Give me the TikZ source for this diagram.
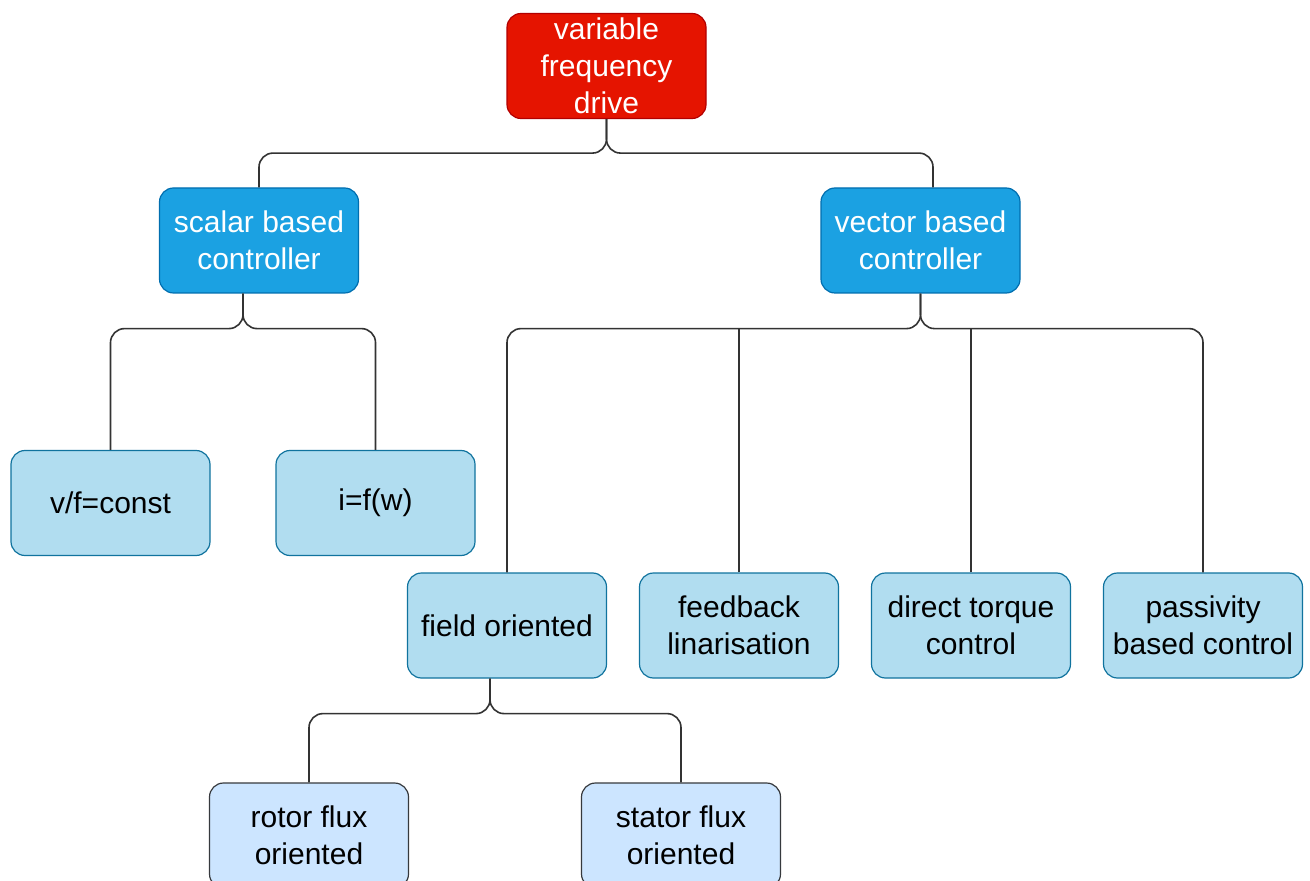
\documentclass[tikz,border=0pt]{standalone}
\usepackage{fontspec}
\setmainfont{Liberation Sans}
\usetikzlibrary{positioning}
\definecolor{vfdred}{HTML}{E51400}
\definecolor{vfdredline}{HTML}{B20000}
\definecolor{ctrlblue}{HTML}{1BA1E2}
\definecolor{ctrlblueline}{HTML}{006EAF}
\definecolor{methodblue}{HTML}{B1DDF0}
\definecolor{methodblueline}{HTML}{10739E}
\definecolor{subblue}{HTML}{CCE5FF}
\definecolor{subblueline}{HTML}{36393D}

\begin{document}
\begin{tikzpicture}[
    x=0.5pt, y=-0.5pt,
    node distance=15.9pt,
    box/.style={rectangle, draw, rounded corners=7pt, minimum width=99.5pt, minimum height=52.5pt, inner sep=0.5pt, align=center, font=\fontsize{15}{18.5}\selectfont, line width=0.6pt},
    topbox/.style={box, fill=vfdred, draw=vfdredline, text=white},
    ctrlbox/.style={box, fill=ctrlblue, draw=ctrlblueline, text=white},
    methodbox/.style={box, fill=methodblue, draw=methodblueline},
    subbox/.style={box, fill=subblue, draw=subblueline},
    link/.style={draw=black!80, line width=0.8pt, rounded corners=7pt}
]
\useasboundingbox (0,0) rectangle (1310,881);
\node[topbox] (vfd) at (606.5,66) {variable\\frequency\\drive};
\node[ctrlbox] (scalar) at (259,240.5) {scalar based\\controller};
\node[ctrlbox] (vector) at (920.5,240.5) {vector based\\controller};
\node[methodbox] (vf) at (110.5,503) {v/f=const};
\node[methodbox, right=32.4pt of vf] (ifw) {i=f(w)};
\node[methodbox] (field) at (507,625.5) {field oriented};
\node[methodbox, right=of field] (feedback) {feedback\\linarisation};
\node[methodbox, right=of feedback] (torque) {direct torque\\control};
\node[methodbox, right=of torque] (passivity) {passivity\\based control};
\node[subbox] (rotor) at (309,835.5) {rotor flux\\oriented};
\node[subbox, right=85.9pt of rotor] (stator) {stator flux\\oriented};

\coordinate (vfdsplit) at ([yshift=-17pt]vfd.south);
\coordinate (scalarsplit) at ([xshift=-8pt, yshift=-17.5pt]scalar.south);
\coordinate (vectorsplit) at ([yshift=-17.5pt]vector.south);
\coordinate (fieldsplit) at ([xshift=-8.5pt, yshift=-17.5pt]field.south);

\draw[link] (vfd.south) -- (vfdsplit) -| (scalar.north);
\draw[link] (vfd.south) -- (vfdsplit) -| ([xshift=6.25pt]vector.north);
\draw[link] ([xshift=-8pt]scalar.south) -- (scalarsplit) -| (vf.north);
\draw[link] ([xshift=-8pt]scalar.south) -- (scalarsplit) -| (ifw.north);
\draw[link] (vector.south) -- (vectorsplit) -| (field.north);
\draw[link] (vector.south) -- (vectorsplit) -| (passivity.north);
\draw[link] (feedback.north) -- (feedback.north |- vectorsplit);
\draw[link] (torque.north) -- (torque.north |- vectorsplit);
\draw[link] ([xshift=-8.5pt]field.south) -- (fieldsplit) -| (rotor.north);
\draw[link] ([xshift=-8.5pt]field.south) -- (fieldsplit) -| (stator.north);
\end{tikzpicture}
\end{document}
